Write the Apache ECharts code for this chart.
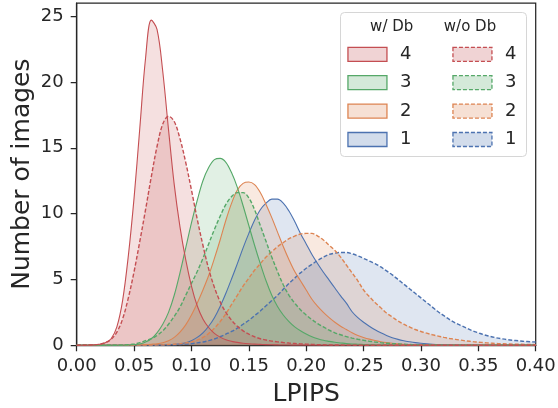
<!DOCTYPE html>
<html>
<head>
<meta charset="utf-8">
<script src="https://cdn.jsdelivr.net/npm/echarts@6/dist/echarts.min.js"></script>
<style>
html,body{margin:0;padding:0;background:#fff;}
#chart{width:558px;height:408px;}
</style>
</head>
<body>
<div id="chart"></div>
<script>
// LPIPS grid (x values)
const lpips = [0.000,0.005,0.010,0.015,0.020,0.025,0.030,0.035,0.040,0.045,
  0.050,0.055,0.060,0.065,0.070,0.075,0.080,0.085,0.090,0.095,
  0.100,0.105,0.110,0.115,0.120,0.125,0.130,0.135,0.140,0.145,
  0.150,0.155,0.160,0.165,0.170,0.175,0.180,0.185,0.190,0.195,
  0.200,0.205,0.210,0.215,0.220,0.225,0.230,0.235,0.240,0.245,
  0.250,0.255,0.260,0.265,0.270,0.275,0.280,0.285,0.290,0.295,
  0.300,0.305,0.310,0.315,0.320,0.325,0.330,0.335,0.340,0.345,
  0.350,0.355,0.360,0.365,0.370,0.375,0.380,0.385,0.390,0.395,0.400];

// w/ Db
const withDb4 = [0,0,0.01,0.03,0.08,0.2,0.5,1.4,3.4,6.8,
  11.2,16.5,21.8,24.7,24.0,20.8,16.4,12.2,9.0,6.5,
  4.5,3.0,2.0,1.35,0.9,0.62,0.42,0.3,0.22,0.16,
  0.12,0.09,0.07,0.05,0.04,0.03,0.02,0.02,0.01,0.01,
  0.01,0,0,0,0,0,0,0,0,0,
  0,0,0,0,0,0,0,0,0,0,
  0,0,0,0,0,0,0,0,0,0,
  0,0,0,0,0,0,0,0,0,0,0];
const withDb3 = [0,0,0,0,0,0,0,0,0,0.02,
  0.05,0.1,0.25,0.5,0.95,1.6,2.5,3.8,5.5,7.4,
  9.3,11.0,12.5,13.5,14.1,14.2,13.9,13.1,12.0,10.6,
  9.1,7.6,6.2,4.9,3.8,2.95,2.3,1.8,1.4,1.1,
  0.85,0.65,0.5,0.38,0.3,0.23,0.18,0.13,0.1,0.08,
  0.06,0.04,0.03,0.02,0.02,0.01,0,0,0,0,
  0,0,0,0,0,0,0,0,0,0,
  0,0,0,0,0,0,0,0,0,0,0];
const withDb2 = [0,0,0,0,0,0,0,0,0,0,
  0.02,0.03,0.05,0.08,0.12,0.2,0.35,0.6,1.0,1.55,
  2.3,3.2,4.2,5.3,6.6,8.0,9.5,10.8,11.8,12.3,
  12.4,12.2,11.6,10.7,9.7,8.6,7.5,6.5,5.6,4.9,
  4.2,3.5,2.95,2.5,2.1,1.75,1.45,1.2,0.95,0.75,
  0.6,0.47,0.36,0.27,0.2,0.15,0.11,0.08,0.06,0.04,
  0.03,0.02,0.02,0.01,0,0,0,0,0,0,
  0,0,0,0,0,0,0,0,0,0,0];
const withDb1 = [0,0,0,0,0,0,0,0,0,0,
  0,0,0,0,0.01,0.02,0.04,0.07,0.12,0.2,
  0.35,0.6,0.95,1.45,2.1,2.95,3.95,5.05,6.2,7.4,
  8.5,9.5,10.3,10.8,11.1,11.1,10.8,10.2,9.4,8.5,
  7.7,6.9,6.2,5.55,4.95,4.35,3.75,3.2,2.55,2.1,
  1.75,1.45,1.18,0.95,0.75,0.58,0.45,0.35,0.27,0.2,
  0.15,0.11,0.08,0.06,0.04,0.03,0.02,0.01,0,0,
  0,0,0,0,0,0,0,0,0,0,0];

// w/o Db
const withoutDb4 = [0,0,0.01,0.03,0.08,0.2,0.45,1.0,2.0,3.6,
  5.6,7.9,10.3,12.8,15.1,16.8,17.4,17.0,15.7,13.9,
  11.8,9.6,7.6,5.8,4.4,3.3,2.5,1.9,1.45,1.1,
  0.85,0.65,0.5,0.4,0.32,0.26,0.21,0.17,0.14,0.11,
  0.09,0.07,0.05,0.04,0.03,0.02,0.02,0.01,0.01,0,
  0,0,0,0,0,0,0,0,0,0,
  0,0,0,0,0,0,0,0,0,0,
  0,0,0,0,0,0,0,0,0,0,0];
const withoutDb3 = [0,0,0,0,0,0,0,0,0.02,0.05,
  0.1,0.2,0.35,0.5,0.75,1.1,1.6,2.2,2.9,3.8,
  4.7,5.6,6.6,7.7,8.8,9.8,10.7,11.3,11.6,11.6,
  11.2,10.3,9.1,7.9,6.7,5.6,4.6,3.8,3.2,2.7,
  2.3,1.95,1.65,1.4,1.15,0.95,0.8,0.66,0.55,0.46,
  0.38,0.31,0.25,0.2,0.16,0.13,0.1,0.08,0.06,0.05,
  0.04,0.03,0.02,0.02,0.01,0,0,0,0,0,
  0,0,0,0,0,0,0,0,0,0,0];
const withoutDb2 = [0,0,0,0,0,0,0,0,0,0,
  0.01,0.01,0.02,0.02,0.03,0.04,0.06,0.08,0.12,0.18,
  0.26,0.4,0.6,0.9,1.3,1.8,2.4,3.1,3.8,4.5,
  5.1,5.7,6.2,6.7,7.1,7.5,7.8,8.1,8.3,8.45,
  8.5,8.5,8.3,8.0,7.6,7.2,6.7,6.1,5.5,4.9,
  4.2,3.7,3.25,2.85,2.45,2.15,1.85,1.6,1.4,1.2,
  1.05,0.92,0.8,0.7,0.6,0.52,0.45,0.39,0.33,0.28,
  0.24,0.2,0.17,0.14,0.12,0.1,0.09,0.08,0.07,0.06,0.05];
const withoutDb1 = [0,0,0,0,0,0,0,0,0,0,
  0,0,0,0,0.01,0.02,0.03,0.04,0.06,0.09,
  0.12,0.18,0.25,0.35,0.48,0.65,0.85,1.05,1.3,1.6,
  1.9,2.25,2.6,3.0,3.4,3.8,4.25,4.7,5.1,5.5,
  5.85,6.15,6.45,6.7,6.9,7.0,7.05,7.05,6.95,6.8,
  6.6,6.4,6.2,5.95,5.65,5.35,5.0,4.65,4.3,3.95,
  3.6,3.25,2.9,2.55,2.25,1.95,1.7,1.5,1.3,1.1,
  0.95,0.8,0.68,0.58,0.5,0.43,0.38,0.34,0.3,0.27,0.25];

const xTicks = [0, 0.05, 0.10, 0.15, 0.20, 0.25, 0.30, 0.35, 0.40];
const yTicks = [0, 5, 10, 15, 20, 25];
const legendLabels = ['4', '3', '2', '1'];
const legendTitles = ['w/ Db', 'w/o Db'];

const colors = {'4': '#C44E52', '3': '#55A868', '2': '#DD8452', '1': '#4C72B0'};
const fills = {'4': 'rgba(196,78,82,0.25)', '3': 'rgba(85,168,104,0.25)', '2': 'rgba(221,132,82,0.25)', '1': 'rgba(76,114,176,0.25)'};

const withSets = {'4': withDb4, '3': withDb3, '2': withDb2, '1': withDb1};
const withoutSets = {'4': withoutDb4, '3': withoutDb3, '2': withoutDb2, '1': withoutDb1};

const FONT = 'DejaVu Sans';
const TXT = '#262626';

function mkSeries(name, key, ys, dashed) {
  return {
    name: name,
    type: 'line',
    data: lpips.map((x, i) => [x, ys[i]]),
    smooth: 0.35,
    showSymbol: false,
    symbol: 'none',
    silent: true,
    sampling: null,
    lineStyle: {color: colors[key], width: dashed ? 1.4 : 1.1, type: dashed ? [4, 2] : 'solid'},
    itemStyle: {color: colors[key]},
    areaStyle: {color: fills[key], origin: 'start'},
    z: 2
  };
}

const series = [];
['1','2','3','4'].forEach(k => {
  series.push(mkSeries('w/o Db ' + k, k, withoutSets[k], true));
  series.push(mkSeries('w/ Db ' + k, k, withSets[k], false));
});

function legendData(prefix, dashed) {
  return legendLabels.map(k => ({
    name: prefix + k,
    icon: 'rect',
    itemStyle: {color: fills[k], borderColor: colors[k], borderWidth: 1.3, borderType: dashed ? [4, 2] : 'solid'}
  }));
}

const legendCommon = {
  orient: 'vertical',
  itemWidth: 39,
  itemHeight: 14,
  itemGap: 10.4,
  selectedMode: false,
  formatter: n => n.slice(-1),
  textStyle: {fontFamily: FONT, fontSize: 18, color: TXT, lineHeight: 18, padding: [0, 0, 0, 8]},
  padding: 0
};

const chart = echarts.init(document.getElementById('chart'), null, {renderer: 'canvas'});
chart.setOption({
  animation: false,
  backgroundColor: '#ffffff',
  grid: {left: 76.7, right: 22.3, top: 3, bottom: 62.7, containLabel: false, outerBoundsMode: 'none',
         show: true, borderColor: TXT, borderWidth: 1.25, backgroundColor: 'transparent'},
  xAxis: {
    type: 'value', min: 0, max: 0.4, interval: 0.05,
    name: 'LPIPS', nameLocation: 'middle', nameGap: 37, nameMoveOverlap: false,
    nameTextStyle: {fontFamily: FONT, fontSize: 25, color: TXT},
    axisLine: {show: true, onZero: false, lineStyle: {color: TXT, width: 1.25}},
    axisTick: {show: true, length: 6, inside: false, lineStyle: {color: TXT, width: 1.25}, customValues: xTicks},
    axisLabel: {fontFamily: FONT, fontSize: 18, color: TXT, margin: 12, customValues: xTicks, formatter: v => v.toFixed(2)},
    splitLine: {show: false}
  },
  yAxis: {
    type: 'value', min: 0, max: 26,
    name: 'Number of images', nameLocation: 'middle', nameGap: 42, nameMoveOverlap: false,
    nameTextStyle: {fontFamily: FONT, fontSize: 25, color: TXT},
    axisLine: {show: true, onZero: false, lineStyle: {color: TXT, width: 1.25}},
    axisTick: {show: true, length: 6, inside: false, lineStyle: {color: TXT, width: 1.25}, customValues: yTicks},
    axisLabel: {fontFamily: FONT, fontSize: 18, color: TXT, margin: 13, customValues: yTicks},
    splitLine: {show: false}
  },
  legend: [
    Object.assign({}, legendCommon, {left: 347.3, top: 45.3, data: legendData('w/ Db ', false)}),
    Object.assign({}, legendCommon, {left: 452.3, top: 45.3, data: legendData('w/o Db ', true)})
  ],
  graphic: [
    {type: 'rect', z: 1, shape: {x: 340.5, y: 12.5, width: 186, height: 144, r: 4},
     style: {fill: 'rgba(255,255,255,0.8)', stroke: '#d6d6d6', lineWidth: 1}},
    {type: 'text', z: 10, x: 391.7, y: 27.5, style: {text: legendTitles[0], fontFamily: FONT, fontSize: 15, fill: TXT, align: 'center', verticalAlign: 'middle'}},
    {type: 'text', z: 10, x: 470, y: 27.5, style: {text: legendTitles[1], fontFamily: FONT, fontSize: 15, fill: TXT, align: 'center', verticalAlign: 'middle'}}
  ],
  series: series
});
</script>
</body>
</html>
